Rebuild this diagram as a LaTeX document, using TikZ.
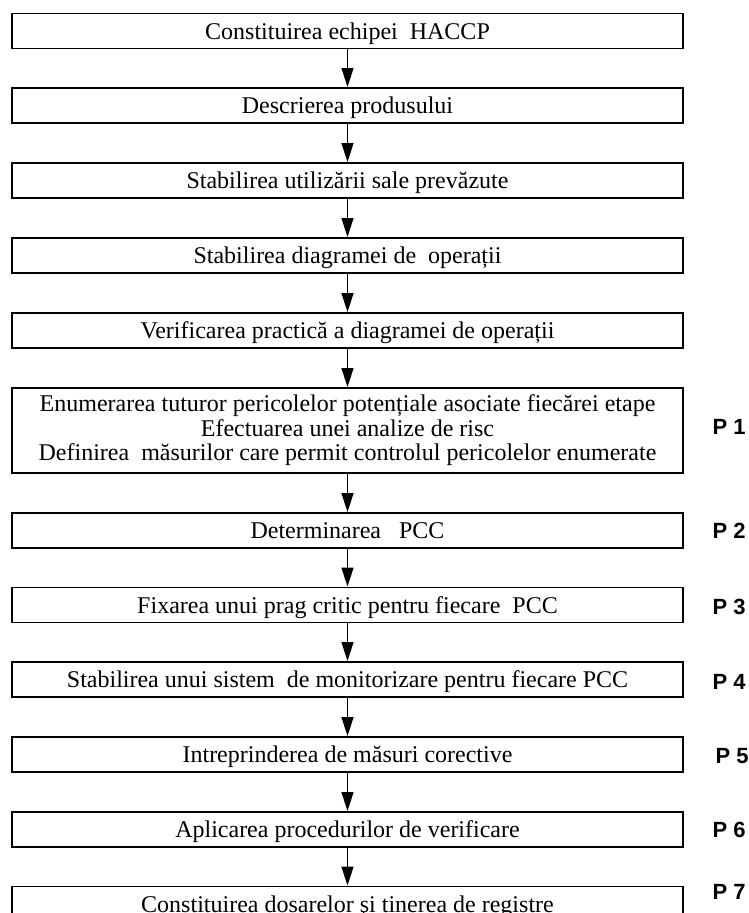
\documentclass[tikz,border=0pt]{standalone}
\usepackage{fontspec}
\setmainfont{Liberation Serif}
\newfontfamily\plab{Liberation Sans}
\usetikzlibrary{arrows.meta}
\begin{document}
\begin{tikzpicture}[x=1pt,y=-1pt,
 stepbox/.style={draw, line width=1.5pt, minimum width=671pt, minimum height=35pt, inner sep=0pt, anchor=north, font=\fontsize{24}{24.5}\selectfont, align=center},
 onebox/.style={stepbox, text height=17pt, text depth=0pt},
 flow/.style={line width=1.5pt, -{Triangle[length=19pt,width=12pt]}},
 plabel/.style={anchor=west, inner sep=0pt, font=\plab\bfseries\fontsize{22}{22}\selectfont}]
\useasboundingbox (0,0) rectangle (748,913);
\clip (0,0) rectangle (748,913);
\node[onebox] (b1) at (347.5,12.7) {Constituirea echipei\ \ HACCP};
\node[onebox] (b2) at (347.5,87) {Descrierea produsului};
\node[onebox] (b3) at (347.5,162) {Stabilirea utilizării sale prevăzute};
\node[onebox] (b4) at (347.5,237) {Stabilirea diagramei de\ \ operații};
\node[onebox] (b5) at (347.5,312) {Verificarea practică a diagramei de operații};
\node[stepbox, minimum height=85pt] (b6) at (347.5,387) {Enumerarea tuturor pericolelor potențiale asociate fiecărei etape\\Efectuarea unei analize de risc\\Definirea\ \ măsurilor care permit controlul pericolelor enumerate};
\node[onebox] (b7) at (347.5,512) {Determinarea\ \ \ PCC};
\node[onebox] (b8) at (347.5,586.5) {Fixarea unui prag critic pentru fiecare\ \ PCC};
\node[onebox] (b9) at (347.5,661) {Stabilirea unui sistem\ \ de monitorizare pentru fiecare PCC};
\node[onebox] (b10) at (347.5,736) {Intreprinderea de măsuri corective};
\node[onebox] (b11) at (347.5,811) {Aplicarea procedurilor de verificare};
\node[onebox] (b12) at (347.5,885.5) {Constituirea dosarelor şi tinerea de registre};
\foreach \a/\b in {b1/b2,b2/b3,b3/b4,b4/b5,b5/b6,b6/b7,b7/b8,b8/b9,b9/b10,b10/b11,b11/b12}
  \draw[flow] (\a.south) -- (\b.north);
\node[plabel] (p1) at (712.5,427) {P 1};
\node[plabel] (p2) at (712.5,531) {P 2};
\node[plabel] (p3) at (712.5,606.5) {P 3};
\node[plabel] (p4) at (712.5,681.5) {P 4};
\node[plabel] (p5) at (715.5,756.5) {P 5};
\node[plabel] (p6) at (712.5,830) {P 6};
\node[plabel] (p7) at (712.5,891.5) {P 7};
\end{tikzpicture}
\end{document}
